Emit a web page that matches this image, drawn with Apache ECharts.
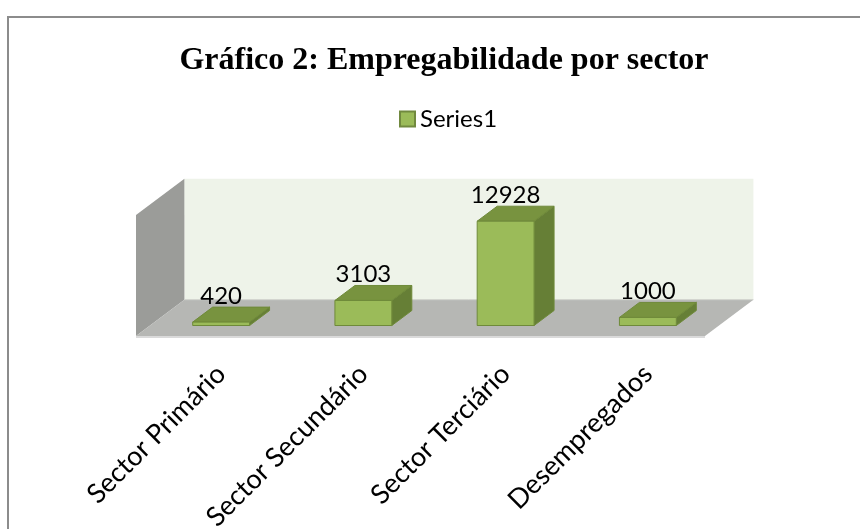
<!DOCTYPE html>
<html>
<head>
<meta charset="utf-8">
<script src="https://cdn.jsdelivr.net/npm/echarts@6/dist/echarts.min.js"></script>
<style>
  html, body { margin: 0; padding: 0; background: #fff; }
  #chart { width: 860px; height: 529px; }
</style>
</head>
<body>
<div id="chart"></div>
<script>
// data
const categories = ["Sector Primário", "Sector Secundário", "Sector Terciário", "Desempregados"];
const values = [420, 3103, 12928, 1000];
const seriesName = "Series1";
const titleText = "Gráfico 2: Empregabilidade por sector";

var chart = echarts.init(document.getElementById("chart"));

// depth step of the fake 3D box (one bar depth)
const DX = 20, DY = -15;
const BACK = 1.72;   // back wall sits this many bar depths behind
const FRONT = -0.7;  // front edge of the floor

const barData = values.map(function (v, i) { return [i, v]; });

let option = {
  animation: false,
  title: {
    text: titleText,
    left: 439,
    top: 40,
    textAlign: "center",
    textStyle: {
      fontFamily: "Liberation Serif",
      fontWeight: "bold",
      fontSize: 32,
      color: "#000"
    }
  },
  legend: {
    data: [seriesName],
    left: 394,
    top: 102,
    itemWidth: 15,
    itemHeight: 15,
    icon: "rect",
    textStyle: { fontFamily: "Lato", fontSize: 24, color: "#000" }
  },
  graphic: [
    {
      type: "rect",
      shape: { x: 8, y: 17, width: 900, height: 600 },
      style: { fill: null, stroke: "#8c8c8c", lineWidth: 2 },
      silent: true
    }
  ],
  grid: {
    left: 150,
    right: 141,
    top: 204.5,
    bottom: 203.5,
    outerBoundsMode: "none",
    containLabel: false
  },
  xAxis: {
    type: "category",
    data: categories,
    axisLine: { show: false },
    axisTick: { show: false },
    axisLabel: {
      rotate: 45,
      margin: 44,
      interval: 0,
      fontFamily: "Lato",
      fontSize: 27,
      color: "#000"
    }
  },
  yAxis: {
    type: "value",
    min: 0,
    max: 15000,
    show: false,
    splitLine: { show: false }
  },
  series: [
    {
      // walls + floor of the 3D box
      type: "custom",
      name: "walls",
      silent: true,
      data: [[0, 0]],
      z: 1,
      renderItem: function (params, api) {
        var cs = params.coordSys;
        var x0 = cs.x, x1 = cs.x + cs.width;
        var yt = cs.y, yb = cs.y + cs.height;
        var bx = DX * BACK, by = DY * BACK;
        var fx = DX * FRONT, fy = DY * FRONT;
        return {
          type: "group",
          children: [
            {
              type: "rect",
              shape: { x: x0 + bx, y: yt + by, width: x1 - x0, height: yb - yt },
              style: { fill: "#eef3e9" }
            },
            {
              type: "polygon",
              shape: { points: [[x0 + fx, yt + fy], [x0 + bx, yt + by], [x0 + bx, yb + by], [x0 + fx, yb + fy]] },
              style: { fill: "#9b9c99" }
            },
            {
              type: "polygon",
              shape: { points: [[x0 + fx, yb + fy], [x0 + bx, yb + by], [x1 + bx, yb + by], [x1 + fx, yb + fy]] },
              style: { fill: "#b6b7b4" }
            },
            {
              type: "line",
              shape: { x1: x0 + fx, y1: yb + fy + 1, x2: x1 + fx, y2: yb + fy + 1 },
              style: { stroke: "#dadada", lineWidth: 2 }
            },
            {
              type: "line",
              shape: { x1: x0 + bx, y1: yb + by, x2: x1 + bx, y2: yb + by },
              style: { stroke: "#cfd2cc", lineWidth: 1 }
            }
          ]
        };
      }
    },
    {
      type: "custom",
      name: seriesName,
      data: barData,
      z: 2,
      itemStyle: { color: "#9bbb59", borderColor: "#71893f", borderWidth: 1 },
      renderItem: function (params, api) {
        var idx = api.value(0);
        var base = api.coord([idx, 0]);
        var top = api.coord([idx, api.value(1)]);
        var w = api.size([1, 0])[0] * 0.4;
        var xl = base[0] - w / 2, xr = base[0] + w / 2;
        var yb = base[1], yt = top[1];
        var edge = "#6f8a3a";
        return {
          type: "group",
          children: [
            {
              type: "polygon",
              shape: { points: [[xr, yt], [xr + DX, yt + DY], [xr + DX, yb + DY], [xr, yb]] },
              style: { fill: "#667f36", stroke: edge, lineWidth: 1 }
            },
            {
              type: "polygon",
              shape: { points: [[xl, yt], [xl + DX, yt + DY], [xr + DX, yt + DY], [xr, yt]] },
              style: { fill: "#78933f", stroke: edge, lineWidth: 1 }
            },
            {
              type: "rect",
              shape: { x: xl, y: yt, width: w, height: yb - yt },
              style: { fill: "#9bbb59", stroke: edge, lineWidth: 1 }
            },
            {
              type: "text",
              style: {
                x: base[0],
                y: yt + DY - 11,
                text: String(api.value(1)),
                textAlign: "center",
                textVerticalAlign: "middle",
                fontFamily: "Lato",
                fontSize: 24,
                fill: "#000"
              }
            }
          ]
        };
      }
    }
  ]
};

option && chart.setOption(option);
</script>
</body>
</html>
